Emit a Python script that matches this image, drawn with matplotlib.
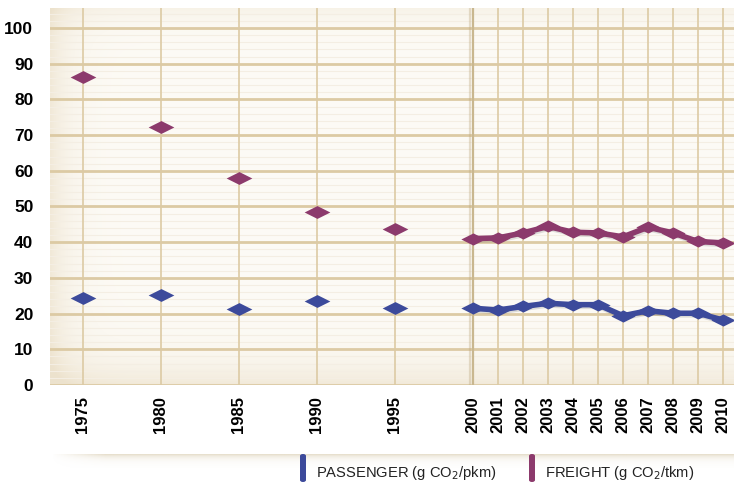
import numpy as np
import matplotlib.pyplot as plt
import matplotlib.patheffects as pe
from matplotlib.path import Path
from matplotlib.patches import FancyBboxPatch

# five-yearly points, then annual series
years_early = [1975, 1980, 1985, 1990, 1995]
freight_early = [86.2, 72.4, 58.0, 48.5, 43.7]
passenger_early = [24.5, 25.1, 21.4, 23.4, 21.7]

years_late = [2000, 2001, 2002, 2003, 2004, 2005, 2006, 2007, 2008, 2009, 2010]
freight_late = [41.0, 41.2, 42.6, 44.4, 42.8, 42.6, 41.5, 44.2, 42.6, 40.2, 39.8]
passenger_late = [21.5, 21.0, 22.0, 22.9, 22.5, 22.5, 19.4, 20.8, 20.1, 20.1, 18.2]

tick_years = years_early + years_late
yticks = [0, 10, 20, 30, 40, 50, 60, 70, 80, 90, 100]

passenger_color = '#3c4a9b'
freight_color = '#8c3a6c'
grid_color = '#dccaa4'


def xpos(year):
    # axis is stretched after 2000: 5-year steps before, single years after
    year = np.asarray(year, dtype=float)
    return np.where(year <= 2000, (year - 1975) * 15.6, 390 + (year - 2000) * 25.0)


fig = plt.figure(figsize=(7.34, 4.86), dpi=100)
ax = fig.add_axes([50 / 734, 1 - 385 / 486, 684 / 734, 377 / 486])
ax.set_xlim(-33, 651)
ax.set_ylim(0, 105.6)

# cream background, darker towards left and bottom edges
nx, ny = 300, 200
GX, GY = np.meshgrid(np.linspace(0, 1, nx), np.linspace(0, 1, ny))
shade = 0.10 * np.exp(-GX / 0.03) + 0.10 * np.exp(-GY / 0.06) + 0.05 * np.exp(-(1 - GY) / 0.04)
shade = np.clip(shade, 0, 0.14) / 0.14 * 0.6
base = np.array([253, 251, 246]) / 255
dark = np.array([226, 210, 178]) / 255
img = base[None, None, :] * (1 - shade[..., None]) + dark[None, None, :] * shade[..., None]
ax.imshow(img, extent=[0, 1, 0, 1], transform=ax.transAxes, origin='lower',
          aspect='auto', zorder=0)

# faint minor lines
for v in np.arange(2, 106, 2):
    ax.axhline(v, color='#f4eee3', lw=0.8, zorder=1)
for v in yticks:
    ax.axhline(v, color=grid_color, lw=2.0, zorder=2)
for x in xpos(tick_years):
    ax.axvline(x, color=grid_color, lw=1.2, zorder=2)
ax.axvline(xpos(2000), color='#c9b78f', lw=1.6, zorder=2,
           path_effects=[pe.SimpleLineShadow(offset=(-2, 0), shadow_color='#bba57a', alpha=0.35),
                         pe.Normal()])

diamond = Path([(-1, 0), (0, 0.5), (1, 0), (0, -0.5), (-1, 0)],
               [Path.MOVETO, Path.LINETO, Path.LINETO, Path.LINETO, Path.CLOSEPOLY])
shadow = [pe.SimpleLineShadow(offset=(0.8, -1.2), shadow_color='#555555', alpha=0.18), pe.Normal()]

for vals_e, vals_l, c in [(freight_early, freight_late, freight_color),
                          (passenger_early, passenger_late, passenger_color)]:
    ax.plot(xpos(years_early), vals_e, ls='none', marker=diamond, ms=18.5,
            color=c, mec=c, mew=0, zorder=5)
    ax.plot(xpos(years_late), vals_l, ls='-', lw=4.0, color=c, zorder=5,
            solid_joinstyle='round', solid_capstyle='round', path_effects=shadow)
    ax.plot(xpos(years_late), vals_l, ls='none', marker=diamond, ms=17.5,
            color=c, mec=c, mew=0, zorder=6)

for s in ax.spines.values():
    s.set_visible(False)
ax.set_xticks(xpos(tick_years))
ax.set_xticklabels([str(y) for y in tick_years], rotation=90, fontsize=12,
                   fontweight='bold', family='Liberation Sans')
ax.set_yticks(yticks)
ax.set_yticklabels([str(v) for v in yticks], fontsize=12.5, fontweight='bold',
                   family='Liberation Sans')
ax.tick_params(axis='x', length=0, pad=8)
ax.tick_params(axis='y', length=0, pad=12)

# shadow band above the legend
band_ax = fig.add_axes([50 / 734, 1 - 468 / 486, 684 / 734, 14 / 486])
fade = np.exp(-np.linspace(0, 1, 30) / 0.25)[:, None] * np.ones((1, 200))
edge = np.minimum(1, np.linspace(0, 1, 200) / 0.08)[None, :]
rgba = np.zeros((30, 200, 4))
rgba[..., :3] = np.array([200, 182, 140]) / 255
rgba[..., 3] = fade * edge * 0.6
band_ax.imshow(rgba, extent=[0, 1, 0, 1], origin='upper', aspect='auto')
band_ax.axis('off')

# legend
for x0, c, label in [(303, passenger_color, 'PASSENGER (g CO$_2$/pkm)'),
                     (532, freight_color, 'FREIGHT (g CO$_2$/tkm)')]:
    fig.patches.append(FancyBboxPatch(((x0 - 3) / 734, 1 - 482 / 486), 6 / 734, 28 / 486,
                                      boxstyle='round,pad=0,rounding_size=0.004',
                                      transform=fig.transFigure, color=c, ec='none'))
    fig.text((x0 + 13) / 734, 1 - 473 / 486, label, fontsize=10.6, color='#222222',
             family='Liberation Sans', va='center', ha='left')

fig.savefig('out.png', dpi=100, facecolor='white')
